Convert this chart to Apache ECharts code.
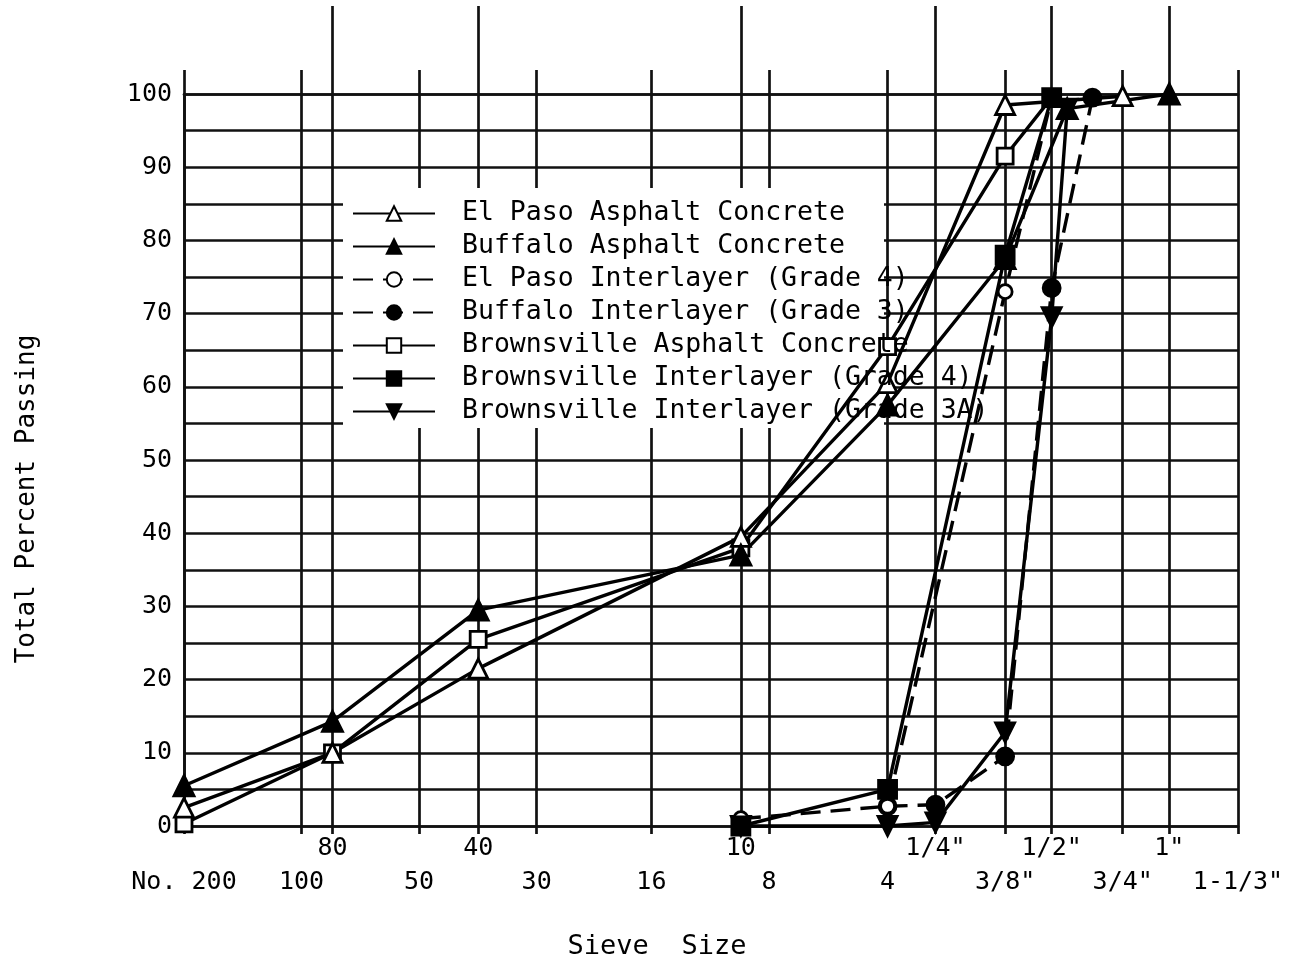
<!DOCTYPE html>
<html><head><meta charset="utf-8">
<script src="https://cdn.jsdelivr.net/npm/echarts@6/dist/echarts.min.js"></script>
<style>html,body{margin:0;padding:0;background:#fff}#c{width:1303px;height:965px}</style>
</head><body><div id="c"></div>
<script>
// Sieve openings (mm) and their labels
const sieveSizes = [0.075, 0.15, 0.18, 0.3, 0.425, 0.6, 1.18, 2.0, 2.36, 4.75, 6.3, 9.5, 12.5, 19, 25, 37.5];
const sieveLabels = ['No. 200', '100', '80', '50', '40', '30', '16', '10', '8', '4', '1/4"', '3/8"', '1/2"', '3/4"', '1"', '1-1/3"'];
const upperRowSizes = [0.18, 0.425, 2.0, 6.3, 12.5, 25];
const lowerRowSizes = [0.075, 0.15, 0.3, 0.6, 1.18, 2.36, 4.75, 9.5, 19, 37.5];

// Gradation data: sieve size (mm) and percent passing
const elPasoAC_size = [0.075, 0.18, 0.425, 2.0, 4.75, 9.5, 19];
const elPasoAC_pass = [2.5, 10, 21.5, 39.5, 60.5, 98.5, 99.7];
const buffaloAC_size = [0.075, 0.18, 0.425, 2.0, 4.75, 9.5, 13.7, 25];
const buffaloAC_pass = [5.5, 14.3, 29.5, 37, 57.5, 77.5, 98, 100];
const elPasoInt_size = [2.0, 4.75, 9.5, 12.5];
const elPasoInt_pass = [1, 2.7, 73, 99.5];
const buffaloInt_size = [4.75, 6.3, 9.5, 12.5, 15.9];
const buffaloInt_pass = [2.7, 2.9, 9.5, 73.5, 99.5];
const brownsAC_size = [0.075, 0.18, 0.425, 2.0, 4.75, 9.5, 12.5];
const brownsAC_pass = [0.3, 10, 25.5, 38, 65.5, 91.5, 99.5];
const brownsInt4_size = [2.0, 4.75, 9.5, 12.5];
const brownsInt4_pass = [0, 5, 78, 99.5];
const browns3A_size = [2.0, 4.75, 6.3, 9.5, 12.5, 13.7];
const browns3A_pass = [0, 0, 0.5, 12.8, 69.5, 98];

const yMin = 0, yMax = 100, yStep = 5;

const FONT = 'DejaVu Sans Mono';
const zip = (a, b) => a.map((v, i) => [v, b[i]]);
function labelFor(v) {
  let best = 0, d = Infinity;
  sieveSizes.forEach((s, i) => { const dd = Math.abs(Math.log(s) - Math.log(v)); if (dd < d) { d = dd; best = i; } });
  return sieveLabels[best];
}

const lineW = 3.4;
function mk(name, size, pass, symbol, filled, dashed, symSize, rot) {
  return {
    name, type: 'line', xAxisIndex: 0, yAxisIndex: 0,
    data: zip(size, pass), symbol, symbolSize: symSize, symbolRotate: rot || 0,
    showAllSymbol: true, clip: false, z: 3,
    lineStyle: { color: '#000', width: lineW, type: dashed ? [20, 10] : 'solid' },
    itemStyle: { color: filled ? '#000' : '#fff', borderColor: '#000', borderWidth: 2.8, opacity: 1 },
    emphasis: { disabled: true }
  };
}

const sElPasoAC = mk('El Paso Asphalt Concrete', elPasoAC_size, elPasoAC_pass, 'triangle', false, false, 19);
const sBuffaloAC = mk('Buffalo Asphalt Concrete', buffaloAC_size, buffaloAC_pass, 'triangle', true, false, 20);
const sElPasoInt = mk('El Paso Interlayer (Grade 4)', elPasoInt_size, elPasoInt_pass, 'circle', false, true, 14);
const sBuffaloInt = mk('Buffalo Interlayer (Grade 3)', buffaloInt_size, buffaloInt_pass, 'circle', true, true, 17);
const sBrownsAC = mk('Brownsville Asphalt Concrete', brownsAC_size, brownsAC_pass, 'rect', false, false, 16);
const sBrownsInt4 = mk('Brownsville Interlayer (Grade 4)', brownsInt4_size, brownsInt4_pass, 'rect', true, false, 18);
const sBrowns3A = mk('Brownsville Interlayer (Grade 3A)', browns3A_size, browns3A_pass, 'triangle', true, false, 19, 180);

const legendOrder = [sElPasoAC, sBuffaloAC, sElPasoInt, sBuffaloInt, sBrownsAC, sBrownsInt4, sBrowns3A].map(s => s.name);
// drawing order (later = on top)
const series = [sBrowns3A, sBuffaloInt, sBrownsAC, sElPasoAC, sElPasoInt, sBrownsInt4, sBuffaloAC];

const gridLine = { color: '#111', width: 2.7 };
const logCommon = { type: 'log', logBase: 10, min: sieveSizes[0], max: sieveSizes[sieveSizes.length - 1] };

const option = {
  backgroundColor: '#fff',
  animation: false,
  textStyle: { fontFamily: FONT },
  grid: { left: 184, right: 65, top: 94, bottom: 139 },
  legend: {
    orient: 'vertical', left: 347, top: 192, z: 4,
    itemWidth: 82, itemHeight: 18, itemGap: 0,
    textStyle: { fontFamily: FONT, fontSize: 26.5, color: '#000', lineHeight: 33, padding: [0, 0, 0, 22] },
    selectedMode: false,
    data: legendOrder
  },
  xAxis: [
    Object.assign({}, logCommon, {
      position: 'bottom',
      axisLine: { show: true, lineStyle: gridLine },
      axisTick: { show: true, customValues: sieveSizes, length: 8, lineStyle: gridLine },
      splitLine: { show: true, lineStyle: gridLine },
      axisLabel: { customValues: lowerRowSizes, formatter: v => labelFor(v), margin: 43,
        fontFamily: FONT, fontSize: 25, color: '#000', lineHeight: 26 }
    }),
    Object.assign({}, logCommon, {
      position: 'bottom',
      axisLine: { show: false }, axisTick: { show: false }, splitLine: { show: false },
      axisLabel: { customValues: upperRowSizes, formatter: v => labelFor(v), margin: 9,
        fontFamily: FONT, fontSize: 25, color: '#000', lineHeight: 26 }
    }),
    Object.assign({}, logCommon, {
      position: 'top',
      axisLine: { show: true, lineStyle: gridLine },
      axisTick: { show: true, customValues: lowerRowSizes, length: 24, lineStyle: gridLine },
      splitLine: { show: false }, axisLabel: { show: false }
    }),
    Object.assign({}, logCommon, {
      position: 'top',
      axisLine: { show: false },
      axisTick: { show: true, customValues: upperRowSizes, length: 88, lineStyle: gridLine },
      splitLine: { show: false }, axisLabel: { show: false }
    })
  ],
  yAxis: {
    type: 'value', min: yMin, max: yMax, interval: yStep,
    axisLine: { show: true, lineStyle: gridLine },
    axisTick: { show: false },
    splitLine: { show: true, lineStyle: gridLine },
    axisLabel: { formatter: v => (v % 10 === 0 ? String(v) : ''), margin: 12,
      fontFamily: FONT, fontSize: 25, color: '#000' }
  },
  graphic: [
    { type: 'rect', z: 1, shape: { x: 343, y: 188, width: 541, height: 240 }, style: { fill: '#fff' }, silent: true },
    { type: 'text', z: 5, x: 27, y: 499, rotation: Math.PI / 2,
      style: { text: 'Total Percent Passing', fontFamily: FONT, fontSize: 26, fill: '#000', align: 'center', verticalAlign: 'middle' } },
    { type: 'text', z: 5, x: 657, y: 947,
      style: { text: 'Sieve  Size', fontFamily: FONT, fontSize: 27, fill: '#000', align: 'center', verticalAlign: 'middle' } }
  ],
  series
};
echarts.init(document.getElementById('c')).setOption(option);
</script>
</body></html>
